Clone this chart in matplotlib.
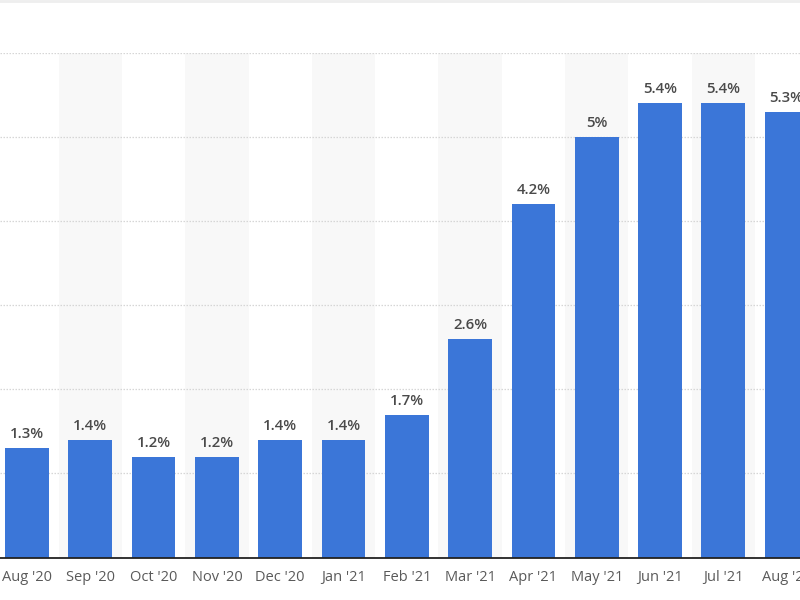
import matplotlib.pyplot as plt

months = ["Aug '20", "Sep '20", "Oct '20", "Nov '20", "Dec '20", "Jan '21", "Feb '21",
          "Mar '21", "Apr '21", "May '21", "Jun '21", "Jul '21", "Aug '21"]
rates = [1.3, 1.4, 1.2, 1.2, 1.4, 1.4, 1.7, 2.6, 4.2, 5.0, 5.4, 5.4, 5.3]
labels = ["1.3%", "1.4%", "1.2%", "1.2%", "1.4%", "1.4%", "1.7%",
          "2.6%", "4.2%", "5%", "5.4%", "5.4%", "5.3%"]

plt.rcParams['font.family'] = ['Open Sans', 'DejaVu Sans']

fig = plt.figure(figsize=(8, 6), dpi=100)
# chart is cropped at the left and right edges
ax = fig.add_axes([0, 0.0708, 1, 0.841])

x = list(range(len(months)))

# alternating shaded columns
for i in x:
    if i % 2 == 1:
        ax.axvspan(i - 0.5, i + 0.5, color='#f8f8f8', zorder=0, lw=0)

for g in range(1, 7):
    ax.axhline(g, color='#d6d6d6', lw=0.9, ls=(0, (1.2, 1.2)), zorder=1)

ax.bar(x, rates, width=0.69, color='#3b76d8', zorder=2)

for i in x:
    ax.annotate(labels[i], (i, rates[i]), xytext=(0, 5), textcoords='offset points',
                ha='center', va='bottom', fontsize=10.8, fontweight='semibold',
                color='#4a4a4a', zorder=3)

ax.set_xlim(-27 / 63.3, (800 - 27) / 63.3)
ax.set_ylim(0, 6)
ax.set_xticks(x)
ax.set_xticklabels(months, fontsize=10.5, color='#5a5a5a')
ax.tick_params(axis='x', length=0, pad=9)
ax.set_yticks([])
for s in ['top', 'left', 'right']:
    ax.spines[s].set_visible(False)
ax.spines['bottom'].set_color('#222222')
ax.spines['bottom'].set_linewidth(1.3)
ax.spines['bottom'].set_zorder(4)

# faint line along the top edge
fig.add_artist(plt.Line2D([0, 1], [0.998, 0.998], color='#eeeeee', lw=2))

fig.savefig('out.png', dpi=100)
